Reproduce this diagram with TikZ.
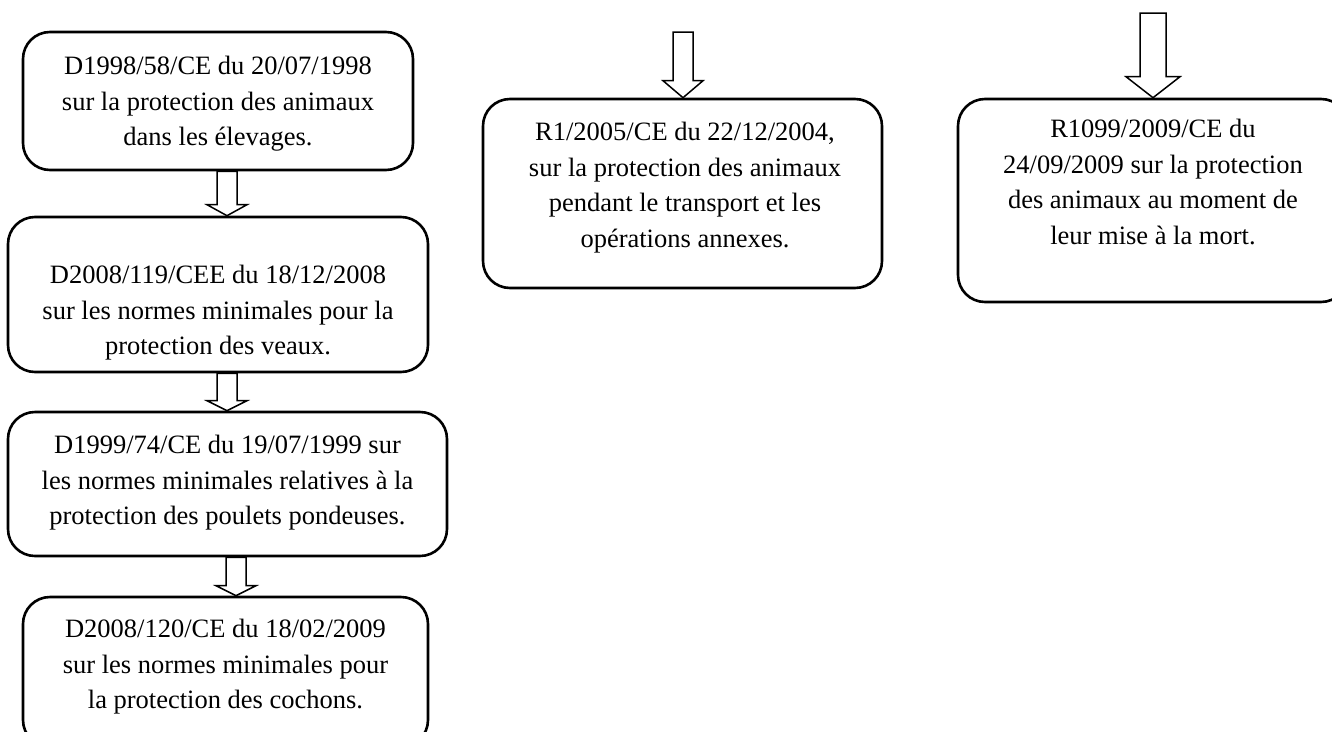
\documentclass[tikz,border=0pt]{standalone}
\usepackage{fontspec}
\setmainfont{Liberation Serif}
\usetikzlibrary{calc}
\tikzset{
  boxnode/.style={draw=black, line width=2.6pt, rounded corners=27pt, inner sep=0pt, fill=white},
  txtnode/.style={align=center, inner sep=0pt, anchor=north, font=\fontsize{26.5}{35.5}\selectfont},
  arrowline/.style={draw=black, line width=1.5pt, fill=white, line join=miter},
}
\newcommand\blockarr[5]{%
  \draw[arrowline] let \p1=#1, \p2=#2 in
    (\x1-#3pt,\y1) -- (\x1-#3pt,\y2+#5pt) -- (\x1-#4pt,\y2+#5pt) -- (\x2,\y2)
    -- (\x1+#4pt,\y2+#5pt) -- (\x1+#3pt,\y2+#5pt) -- (\x1+#3pt,\y1) -- cycle;}
\begin{document}
\begin{tikzpicture}[x=1pt,y=-1pt]
\useasboundingbox (0,0) rectangle (1332,731);
\clip (0,0) rectangle (1332,731);
% boxes
\node[boxnode, minimum width=390pt, minimum height=138pt] (b1) at (218,101) {};
\node[boxnode, minimum width=420pt, minimum height=155pt] (b2) at (218,294.5) {};
\node[boxnode, minimum width=439pt, minimum height=144pt] (b3) at (227.5,484) {};
\node[boxnode, minimum width=405pt, minimum height=150pt] (b4) at (225.5,672) {};
\node[boxnode, minimum width=399pt, minimum height=189pt] (b5) at (682.5,193.5) {};
\node[boxnode, minimum width=390pt, minimum height=203pt] (b6) at (1153,200.5) {};
% texts
\node[txtnode] (t1) at (218,56) {D1998/58/CE du 20/07/1998\\sur la protection des animaux\\dans les élevages.};
\node[txtnode] (t2) at (218,265) {D2008/119/CEE du 18/12/2008\\sur les normes minimales pour la\\protection des veaux.};
\node[txtnode] (t3) at (227.5,435) {D1999/74/CE du 19/07/1999 sur\\les normes minimales relatives à la\\protection des poulets pondeuses.};
\node[txtnode] (t4) at (225.5,619) {D2008/120/CE du 18/02/2009\\sur les normes minimales pour\\la protection des cochons.};
\node[txtnode] (t5) at (685,122) {R1/2005/CE du 22/12/2004,\\sur la protection des animaux\\pendant le transport et les\\opérations annexes.};
\node[txtnode] (t6) at (1153,119) {R1099/2009/CE du\\24/09/2009 sur la protection\\des animaux au moment de\\leur mise à la mort.};
% arrow anchors
\coordinate (a1) at (227,0);
\coordinate (a2) at (227,0);
\coordinate (a3) at (236,0);
\coordinate (m0) at (683,32);
\coordinate (r0) at (1153,13);
% arrows
\blockarr{(b1.south -| a1)}{(b2.north -| a1)}{10}{20}{11}
\blockarr{(b2.south -| a2)}{(b3.north -| a2)}{10}{20}{10}
\blockarr{(b3.south -| a3)}{(b4.north -| a3)}{10}{20}{10}
\blockarr{(m0)}{(b5.north -| m0)}{10}{20}{17}
\blockarr{(r0)}{(b6.north -| r0)}{13}{27}{21}
\end{tikzpicture}
\end{document}
